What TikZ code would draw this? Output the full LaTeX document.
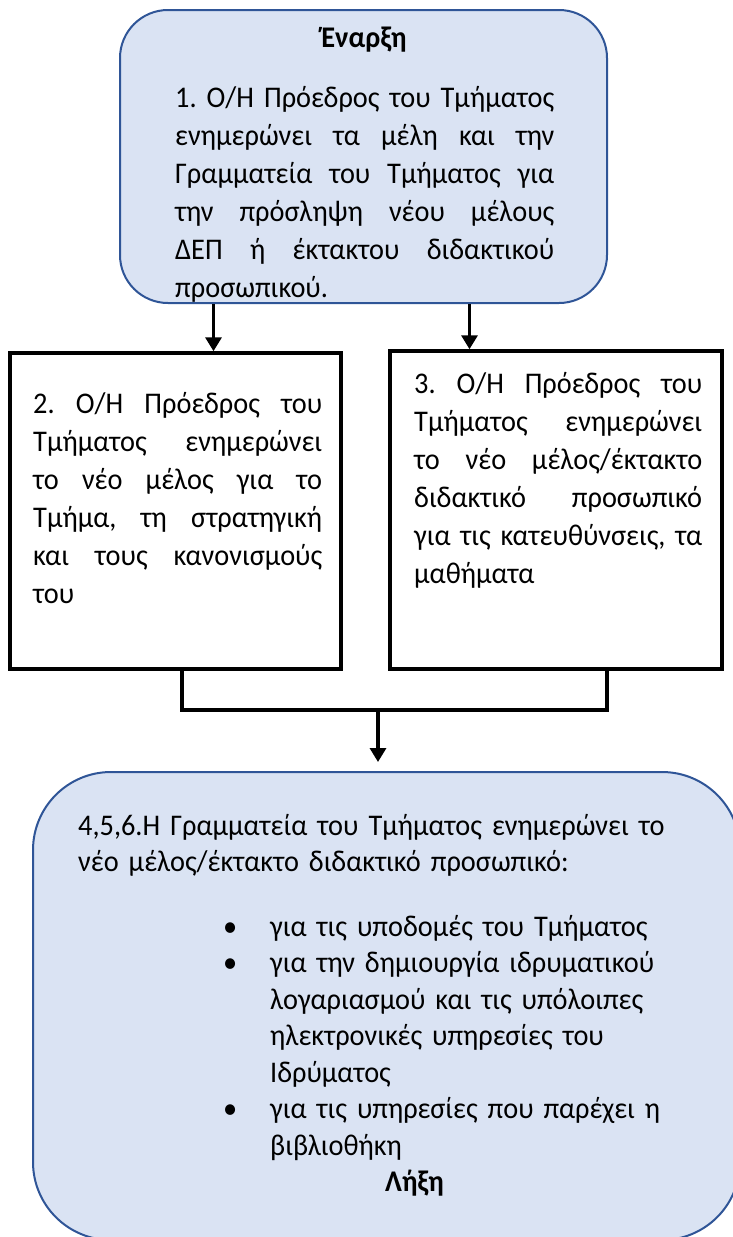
\documentclass[tikz,border=0pt]{standalone}
\usepackage{fontspec}
\setmainfont{Carlito}[FakeStretch=0.945]
\usetikzlibrary{positioning,arrows.meta}
\definecolor{boxblue}{HTML}{DAE3F3}
\definecolor{edgeblue}{HTML}{2F5597}
\setlength{\parindent}{0pt}
\frenchspacing
\newcommand{\jline}[1]{\hbox to \hsize{\spaceskip=0.23em plus 1fil\relax #1}}
\newcommand{\lastline}[1]{\hbox{#1}}
\newcommand{\bulletmark}{\leavevmode\llap{•\hspace{33pt}}}

\begin{document}
\begin{tikzpicture}
    [x=1pt,y=-1pt,every node/.style={inner sep=0pt},
     endpoint/.style={rectangle,rounded corners=#1,draw=edgeblue,fill=boxblue,line width=2pt},
     stepbox/.style={rectangle,draw=black,line width=3.5pt,fill=white},
     bodytext/.style={anchor=base west,text width=#1,font=\fontsize{30}{38}\selectfont},
     link/.style={line width=3.3pt},
     arrow/.style={link,-{Triangle[length=14pt,width=16pt]}}]
    \useasboundingbox (0,0) rectangle (733,1237);
    % boxes
    \node[endpoint=48pt,minimum width=487pt,minimum height=293pt] (topbox) at (363.5,156.5) {};
    \node[stepbox,minimum width=331pt,minimum height=316pt] (leftbox) at (175.5,511) {};
    \node[stepbox,minimum width=332pt,minimum height=318pt] (rightbox) at (556,510) {};
    \node[endpoint=78pt,minimum width=707pt,minimum height=468pt] (endbox) at (386.5,1006) {};
    % texts
    \node[anchor=base,font=\fontsize{30}{38}\selectfont\bfseries] (startlbl) at (364,47) {Έναρξη};
    \node[bodytext=379pt] (topbody) at (175,107) {%
      \jline{1. Ο/Η Πρόεδρος του Τμήματος}
      \jline{ενημερώνει τα μέλη και την}
      \jline{Γραμματεία του Τμήματος για}
      \jline{την πρόσληψη νέου μέλους}
      \jline{ΔΕΠ ή έκτακτου διδακτικού}
      \lastline{προσωπικού.}};
    \node[bodytext=289pt] (leftbody) at (33,413) {%
      \jline{2. Ο/Η Πρόεδρος του}
      \jline{Τμήματος ενημερώνει}
      \jline{το νέο μέλος για το}
      \jline{Τμήμα, τη στρατηγική}
      \jline{και τους κανονισμούς}
      \lastline{του}};
    \node[bodytext=288pt] (rightbody) at (414,393) {%
      \jline{3. Ο/Η Πρόεδρος του}
      \jline{Τμήματος ενημερώνει}
      \jline{το νέο μέλος/έκτακτο}
      \jline{διδακτικό προσωπικό}
      \jline{για τις κατευθύνσεις, τα}
      \lastline{μαθήματα}};
    \node[anchor=base west,text width=650pt,font=\fontsize{30}{36.5}\selectfont] (endbody) at (78,835) {%
      \raggedright
      4,5,6.Η Γραμματεία του Τμήματος ενημερώνει το\\
      νέο μέλος/έκτακτο διδακτικό προσωπικό:\par
      \vspace{28pt}%
      \leftskip=192pt
      \bulletmark για τις υποδομές του Τμήματος\par
      \bulletmark για την δημιουργία ιδρυματικού\\
      λογαριασμού και τις υπόλοιπες\\
      ηλεκτρονικές υπηρεσίες του\\
      Ιδρύματος\par
      \bulletmark για τις υπηρεσίες που παρέχει η\\
      βιβλιοθήκη\par
      \leftskip=307pt
      \textbf{Λήξη}\par};
    % connectors
    \path (topbox.south) ++(-150,0) coordinate (tl);
    \path (topbox.south) ++(106,0) coordinate (tr);
    \draw[arrow] (tl) -- (tl |- leftbox.north);
    \draw[arrow] (tr) -- (tr |- rightbox.north);
    \coordinate (jl) at (182,710);
    \coordinate (jr) at (607,710);
    \coordinate (jm) at (378,710);
    \draw[link] (jl |- leftbox.south) -- (jl) -- (jr) -- (jr |- rightbox.south);
    \draw[arrow,shorten >=9pt] (jm) -- (jm |- endbox.north);
  \end{tikzpicture}
\end{document}
